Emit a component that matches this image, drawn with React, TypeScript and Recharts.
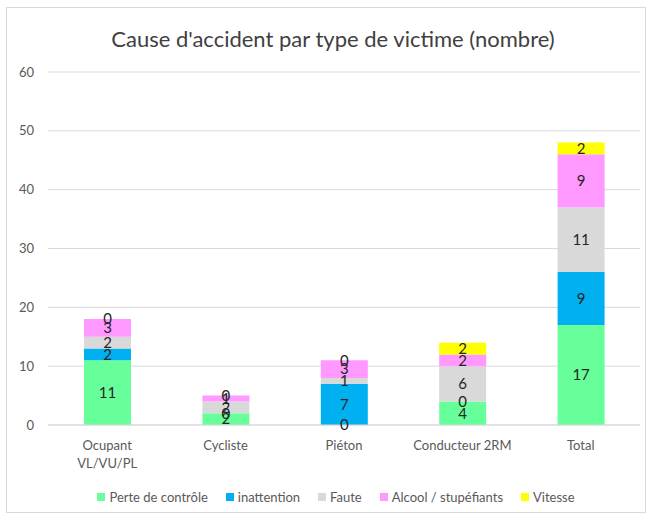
import { BarChart, Bar, XAxis, YAxis, CartesianGrid, LabelList } from "recharts";

const categories = ["Ocupant\nVL/VU/PL", "Cycliste", "Piéton", "Conducteur 2RM", "Total"];
const perteControle = [11, 2, 0, 4, 17];
const inattention = [2, 0, 7, 0, 9];
const faute = [2, 2, 1, 6, 11];
const alcool = [3, 1, 3, 2, 9];
const vitesse = [0, 0, 0, 2, 2];
const yTicks = [0, 10, 20, 30, 40, 50, 60];

const SERIES = [
  { key: "perte", name: "Perte de contrôle", color: "#66FF99", values: perteControle },
  { key: "inatt", name: "inattention", color: "#00B0F0", values: inattention },
  { key: "faute", name: "Faute", color: "#D9D9D9", values: faute },
  { key: "alcool", name: "Alcool / stupéfiants", color: "#FF99FF", values: alcool },
  { key: "vitesse", name: "Vitesse", color: "#FFFF00", values: vitesse },
];

const data = categories.map((c, i) => {
  const row: Record<string, string | number> = { cat: c };
  SERIES.forEach((s) => (row[s.key] = s.values[i]));
  return row;
});

const FONT = "Lato, 'Open Sans', sans-serif";

function CatTick({ x, y, payload }: any) {
  const lines = String(payload.value).split("\n");
  return (
    <text x={x} y={y + 17} textAnchor="middle" fill="#595959" fontSize={13} fontFamily={FONT}>
      {lines.map((l, i) => (
        <tspan key={i} x={x} dy={i === 0 ? 0 : 18}>
          {l}
        </tspan>
      ))}
    </text>
  );
}

export default function App() {
  return (
    <div style={{ position: "absolute", left: 0, top: 0, width: 652, height: 517, background: "#fff" }}>
      <div
        style={{
          position: "absolute",
          left: 6,
          top: 7,
          width: 638,
          height: 504,
          border: "1px solid #d9d9d9",
        }}
      />
      <div
        style={{
          position: "absolute",
          left: 0,
          top: 25,
          width: 666,
          textAlign: "center",
          fontFamily: FONT,
          fontSize: 22,
          color: "#404040",
        }}
      >
        Cause d'accident par type de victime (nombre)
      </div>
      <div style={{ position: "absolute", left: 0, top: 0 }}>
        <BarChart width={652} height={517} data={data} margin={{ top: 72, right: 12, left: 0, bottom: 0 }}>
          <CartesianGrid vertical={false} stroke="#d9d9d9" />
          <XAxis
            dataKey="cat"
            tick={<CatTick />}
            tickLine={false}
            axisLine={{ stroke: "#d9d9d9" }}
            height={92}
            interval={0}
          />
          <YAxis
            domain={[0, 60]}
            ticks={yTicks}
            width={48}
            tickLine={false}
            axisLine={false}
            tick={{ fill: "#595959", fontSize: 13, fontFamily: FONT, dx: -6 }}
          />
          {SERIES.map((s) => (
            <Bar
              key={s.key}
              dataKey={s.key}
              name={s.name}
              stackId="a"
              fill={s.color}
              barSize={47}
              minPointSize={0.01}
              isAnimationActive={false}
            >
              <LabelList dataKey={s.key} position="center" fill="#262626" fontSize={15} fontFamily={FONT} />
            </Bar>
          ))}
        </BarChart>
      </div>
      <div
        style={{
          position: "absolute",
          left: 0,
          top: 489,
          width: 672,
          display: "flex",
          justifyContent: "center",
          gap: 18,
          fontFamily: FONT,
          fontSize: 13,
          color: "#595959",
        }}
      >
        {SERIES.map((s) => (
          <div key={s.key} style={{ display: "flex", alignItems: "center", gap: 4 }}>
            <span style={{ width: 8, height: 8, background: s.color, display: "inline-block" }} />
            <span>{s.name}</span>
          </div>
        ))}
      </div>
    </div>
  );
}
